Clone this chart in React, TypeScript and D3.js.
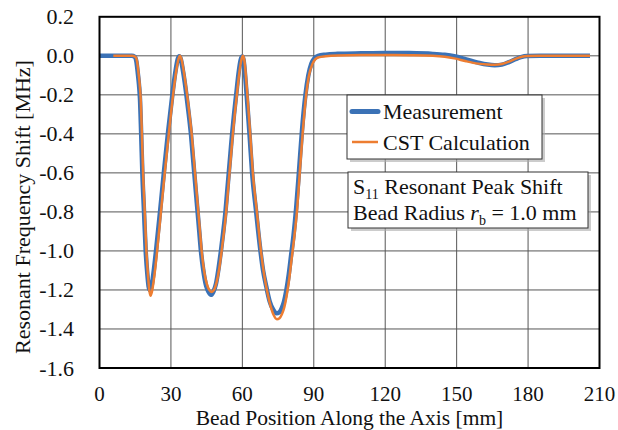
import React from "react";
import * as d3 from "d3";

const xTicks = [0, 30, 60, 90, 120, 150, 180, 210];
const yTicks = [0.2, 0.0, -0.2, -0.4, -0.6, -0.8, -1.0, -1.2, -1.4, -1.6];

const measurement: [number, number][] = [
  [0, 0], [5, 0], [10, 0], [13.6, 0], [14.8, -0.005], [15.5, -0.03], [16.1, -0.09], [16.6, -0.15], [17.0, -0.22],
  [17.5, -0.4], [18.0, -0.6], [18.7, -0.8], [19.4, -1.0], [20.1, -1.12], [20.6, -1.18], [21.1, -1.2], [21.7, -1.19],
  [22.6, -1.12], [23.9, -0.98], [25.5, -0.79], [27.1, -0.59], [28.8, -0.39], [30.6, -0.2], [31.9, -0.08], [32.9, -0.015],
  [33.5, -0.002], [34.1, -0.015], [35.1, -0.08], [36.5, -0.2], [37.5, -0.3], [38.4, -0.4], [39.1, -0.5], [39.8, -0.6],
  [40.5, -0.7], [41.2, -0.8], [41.9, -0.9], [42.6, -1.0], [43.6, -1.1], [44.8, -1.18], [45.8, -1.21], [46.8, -1.225],
  [47.8, -1.21], [48.9, -1.17], [50.0, -1.09], [51.0, -1.0], [52.0, -0.9], [52.9, -0.8], [53.6, -0.7], [54.3, -0.6],
  [55.0, -0.5], [55.7, -0.4], [56.5, -0.3], [57.4, -0.2], [58.5, -0.08], [59.3, -0.02], [59.9, -0.003], [60.5, -0.02],
  [61.1, -0.09], [61.8, -0.2], [63.0, -0.4], [64.1, -0.6], [65.8, -0.8], [67.5, -0.99], [68.7, -1.1], [70.0, -1.18],
  [71.5, -1.26], [72.9, -1.3], [74.3, -1.32], [75.5, -1.315], [76.5, -1.295], [77.5, -1.26], [78.5, -1.2], [79.5, -1.12],
  [80.5, -1.02], [81.5, -0.92], [82.6, -0.78], [83.8, -0.59], [85.0, -0.39], [86.5, -0.2], [87.7, -0.1], [89.0, -0.04],
  [90.3, -0.012], [91.8, 0], [95, 0.006], [100, 0.01], [110, 0.013], [120, 0.015], [130, 0.014], [140, 0.01], [145, 0.005],
  [149, -0.002], [154, -0.018], [159, -0.035], [163, -0.045], [166, -0.048], [169, -0.045], [172, -0.032], [175, -0.016],
  [177, -0.007], [179.5, -0.001], [185, 0], [195, 0], [206, 0],
];

const cstCalculation: [number, number][] = [
  [5.8, 0], [10, 0], [13.6, 0], [15.1, -0.005], [15.8, -0.03], [16.4, -0.09], [16.9, -0.15], [17.3, -0.22], [17.8, -0.4],
  [18.3, -0.6], [19.0, -0.8], [19.7, -1.0], [20.4, -1.13], [20.9, -1.2], [21.4, -1.23], [22.0, -1.21], [22.9, -1.14],
  [24.2, -1.0], [25.8, -0.8], [27.4, -0.6], [29.1, -0.4], [30.9, -0.2], [32.2, -0.08], [33.2, -0.015], [33.8, 0],
  [34.4, -0.015], [35.4, -0.08], [36.8, -0.2], [37.8, -0.3], [38.7, -0.4], [39.4, -0.5], [40.1, -0.6], [40.8, -0.7],
  [41.5, -0.8], [42.2, -0.9], [42.9, -1.0], [43.9, -1.1], [45.1, -1.17], [46.1, -1.2], [47.1, -1.21], [48.1, -1.2],
  [49.2, -1.16], [50.3, -1.09], [51.3, -1.0], [52.3, -0.9], [53.2, -0.8], [53.9, -0.7], [54.6, -0.6], [55.3, -0.5],
  [56.0, -0.4], [56.8, -0.3], [57.7, -0.2], [58.8, -0.08], [59.6, -0.02], [60.2, 0], [60.8, -0.02], [61.4, -0.09],
  [62.1, -0.2], [63.3, -0.4], [64.4, -0.6], [66.1, -0.8], [67.8, -1.0], [69.0, -1.11], [70.3, -1.2], [71.8, -1.28],
  [73.2, -1.33], [74.5, -1.35], [75.6, -1.345], [76.6, -1.325], [77.6, -1.29], [78.6, -1.23], [79.6, -1.15], [80.6, -1.05],
  [81.6, -0.95], [82.9, -0.8], [84.1, -0.6], [85.3, -0.4], [86.8, -0.2], [88.0, -0.1], [89.3, -0.045], [90.6, -0.018],
  [92.1, -0.007], [95, -0.002], [100, 0.002], [110, 0.004], [120, 0.004], [130, 0.003], [140, 0], [145, -0.005],
  [149, -0.013], [154, -0.028], [159, -0.04], [163, -0.045], [166, -0.046], [169, -0.042], [172, -0.03], [175, -0.014],
  [177, -0.006], [179.5, -0.001], [185, 0], [195, 0], [206, 0],
];

const W = 618;
const H = 430;
const L = 99.5, R = 599.5, T = 16.8, B = 368;
const FONT = "'Liberation Serif', 'Times New Roman', serif";

export default function App() {
  const x = d3.scaleLinear().domain([0, 210]).range([L, R]);
  const y = d3.scaleLinear().domain([-1.6, 0.2]).range([B, T]);
  const line = d3
    .line<[number, number]>()
    .x((d) => x(d[0]))
    .y((d) => y(d[1]))
    .curve(d3.curveMonotoneX);

  return (
    <svg
      width={W}
      height={H}
      style={{ position: "absolute", left: 0, top: 0, background: "#fff" }}
      fontFamily={FONT}
    >
      <rect x={0} y={0} width={W} height={H} fill="#fff" />
      {xTicks.slice(1, -1).map((t) => (
        <line key={"gx" + t} x1={x(t)} x2={x(t)} y1={T} y2={B} stroke="#555" strokeWidth={1} />
      ))}
      {yTicks.slice(1, -1).map((t) => (
        <line key={"gy" + t} x1={L} x2={R} y1={y(t)} y2={y(t)} stroke="#555" strokeWidth={1} />
      ))}
      <path d={line(measurement) || ""} fill="none" stroke="#3B72B6" strokeWidth={4.5} strokeLinejoin="round" />
      <path d={line(cstCalculation) || ""} fill="none" stroke="#ED7D31" strokeWidth={2.5} strokeLinejoin="round" />
      <rect x={L} y={T} width={R - L} height={B - T} fill="none" stroke="#000" strokeWidth={2} />

      {xTicks.map((t) => (
        <text key={"tx" + t} x={x(t)} y={400.5} fontSize={21} textAnchor="middle" fill="#111">
          {t}
        </text>
      ))}
      {yTicks.map((t) => (
        <text key={"ty" + t} x={74} y={y(t) + 7.5} fontSize={22} textAnchor="end" fill="#111">
          {t.toFixed(1)}
        </text>
      ))}
      <text x={349.5} y={425} fontSize={21.5} textAnchor="middle" fill="#111">
        Bead Position Along the Axis [mm]
      </text>
      <text
        transform={`translate(30,207) rotate(-90)`}
        fontSize={22}
        textAnchor="middle"
        fill="#111"
      >
        Resonant Frequency Shift [MHz]
      </text>

      {/* Legend */}
      <rect x={350} y={98} width={195} height={64} fill="#aaa" opacity={0.6} />
      <rect x={347} y={95} width={195} height={64} fill="#fff" stroke="#333" strokeWidth={1} />
      <line x1={352} x2={378} y1={111.5} y2={111.5} stroke="#3B72B6" strokeWidth={5} strokeLinecap="round" />
      <line x1={352} x2={378} y1={142} y2={142} stroke="#ED7D31" strokeWidth={2.5} />
      <text x={383} y={118.5} fontSize={22} fill="#111">Measurement</text>
      <text x={383} y={150} fontSize={22} fill="#111">CST Calculation</text>

      {/* Annotation */}
      <rect x={351} y={175} width={240} height={56} fill="#aaa" opacity={0.6} />
      <rect x={348} y={172} width={240} height={56} fill="#fff" stroke="#333" strokeWidth={1} />
      <text x={353} y={193.5} fontSize={22} fill="#111">
        S<tspan fontSize={14} dy={5}>11</tspan>
        <tspan dy={-5}> Resonant Peak Shift</tspan>
      </text>
      <text x={353} y={220} fontSize={22} fill="#111">
        Bead Radius <tspan fontStyle="italic">r</tspan>
        <tspan fontSize={14} dy={5}>b</tspan>
        <tspan dy={-5}> = 1.0 mm</tspan>
      </text>
    </svg>
  );
}
